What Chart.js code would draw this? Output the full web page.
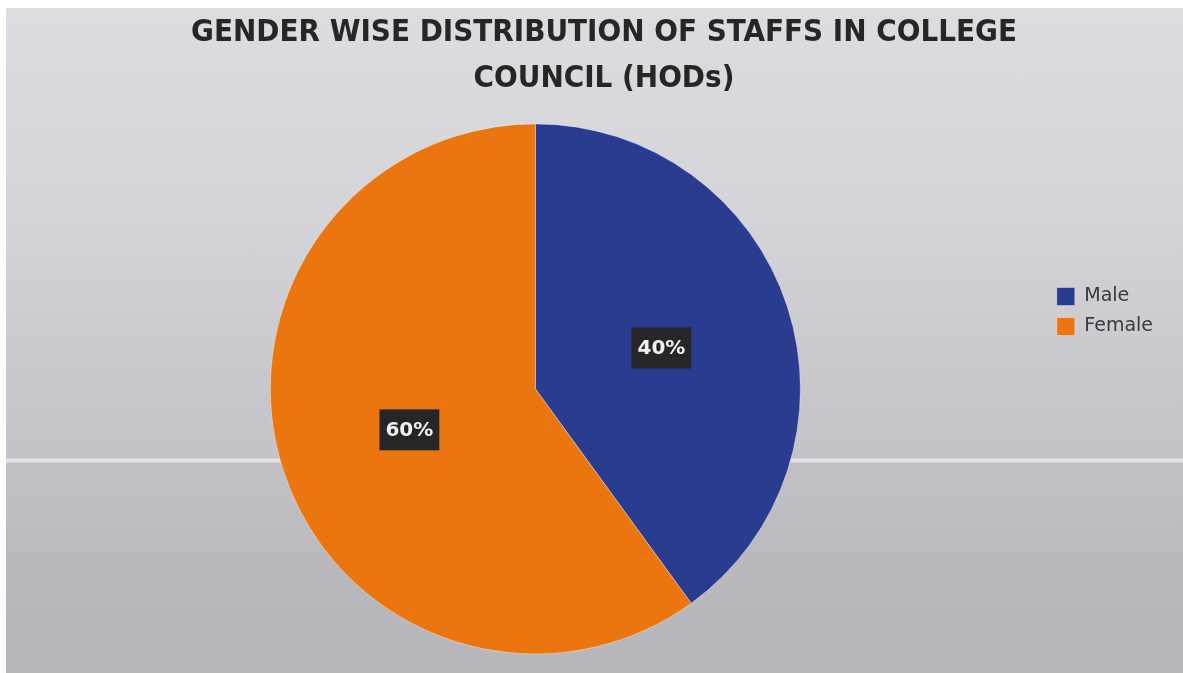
<!DOCTYPE html>
<html>
<head>
<meta charset="utf-8">
<script src="https://cdn.jsdelivr.net/npm/chart.js@4.4.1/dist/chart.umd.min.js"></script>
<style>
  html, body { margin: 0; padding: 0; background: #ffffff; }
  #bg {
    position: absolute; left: 6px; top: 8px; width: 1177px; height: 665px;
    background: linear-gradient(to bottom,
      #dcdce1 0%, #d4d4d9 30%, #c8c8cd 55%, #c3c3c8 67.6%,
      #e2e2e6 67.9%, #e2e2e6 68.2%, #c0c0c5 68.5%, #b9b9bd 85%, #b6b7bb 100%);
  }
  #wrap { position: absolute; left: 0; top: 0; width: 1183px; height: 673px; }
</style>
</head>
<body>
<div id="bg"></div>
<div id="wrap"><canvas id="c" width="1183" height="673"></canvas></div>
<script>
const titleLines = ["GENDER WISE DISTRIBUTION OF STAFFS IN COLLEGE", "COUNCIL (HODs)"];
const categories = ["Male", "Female"];
const values = [40, 60];
const colors = ["#2a3c8f", "#eb760f"];

// spacer box on the far right so the legend sits where it does in the reference
const rightSpacer = {
  id: 'rightSpacer',
  beforeInit(chart) {
    const box = {
      position: 'right', weight: 5000, fullSize: false, options: {},
      width: 0, height: 0, left: 0, top: 0, right: 0, bottom: 0,
      isHorizontal() { return false; },
      update(maxWidth, maxHeight) { this.width = 20; this.height = maxHeight; },
      draw() {}
    };
    Chart.layouts.addBox(chart, box);
  }
};

const percentLabels = {
  id: 'percentLabels',
  afterDatasetsDraw(chart) {
    const ctx = chart.ctx;
    const meta = chart.getDatasetMeta(0);
    const data = chart.data.datasets[0].data;
    const total = data.reduce((a, b) => a + b, 0);
    ctx.save();
    ctx.font = "bold 20px 'DejaVu Sans'";
    ctx.textAlign = 'center';
    ctx.textBaseline = 'middle';
    meta.data.forEach((arc, i) => {
      const p = arc.tooltipPosition();
      const txt = Math.round(data[i] / total * 100) + '%';
      const w = ctx.measureText(txt).width + 12;
      const h = 41;
      ctx.fillStyle = '#262628';
      ctx.fillRect(p.x - w / 2, p.y - h / 2, w, h);
      ctx.fillStyle = '#f2f2f2';
      ctx.fillText(txt, p.x, p.y + 1);
    });
    ctx.restore();
  }
};

new Chart(document.getElementById('c'), {
  type: 'pie',
  data: {
    labels: categories,
    datasets: [{
      data: values,
      backgroundColor: colors,
      borderColor: 'rgba(255,255,255,0.35)',
      borderWidth: 1,
      radius: 265
    }]
  },
  options: {
    responsive: false,
    animation: false,
    layout: { padding: { left: 25, right: 0, top: 0, bottom: 7 } },
    plugins: {
      tooltip: { enabled: false },
      title: {
        display: true,
        text: titleLines,
        color: '#262626',
        font: { family: "'Liberation Sans Narrow', 'DejaVu Sans Condensed', sans-serif", size: 31, weight: 'bold', lineHeight: 1.48 },
        padding: { top: 10, bottom: 10 }
      },
      legend: {
        position: 'right',
        align: 'start',
        title: { display: true, text: '', font: { size: 10, lineHeight: 1 }, padding: { top: 266, bottom: 0 } },
        labels: {
          boxWidth: 18, boxHeight: 18, padding: 11,
          color: '#3a3a3a',
          font: { family: "'DejaVu Sans'", size: 19 }
        }
      }
    }
  },
  plugins: [rightSpacer, percentLabels]
});
</script>
</body>
</html>
